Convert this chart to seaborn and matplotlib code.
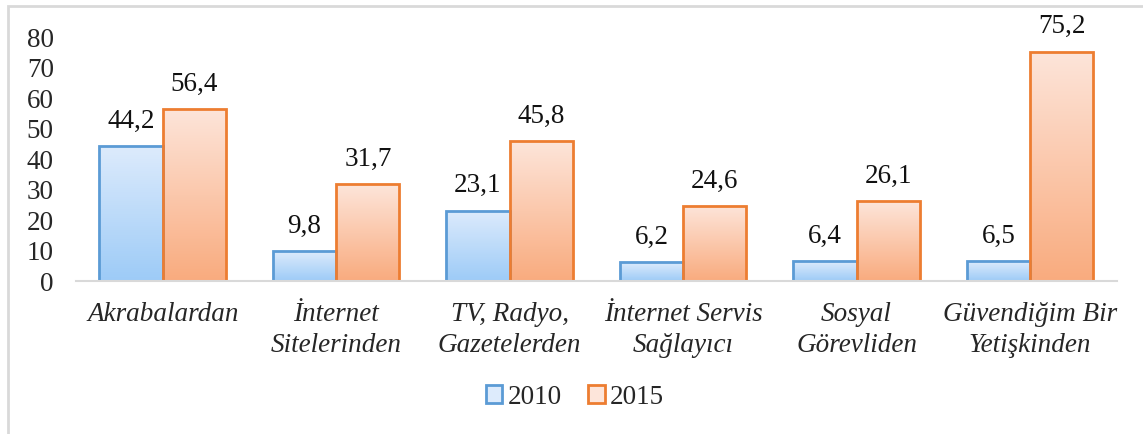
import numpy as np
import pandas as pd
import matplotlib
matplotlib.use("Agg")
import matplotlib.pyplot as plt
from matplotlib.patches import Patch, Rectangle
from matplotlib.colors import LinearSegmentedColormap
import seaborn as sns

# Data
categories = ["Akrabalardan", "İnternet\nSitelerinden", "TV, Radyo,\nGazetelerden",
              "İnternet Servis\nSağlayıcı", "Sosyal\nGörevliden", "Güvendiğim Bir\nYetişkinden"]
values_2010 = [44.2, 9.8, 23.1, 6.2, 6.4, 6.5]
values_2015 = [56.4, 31.7, 45.8, 24.6, 26.1, 75.2]
years = ["2010", "2015"]
y_ticks = [0, 10, 20, 30, 40, 50, 60, 70, 80]

df = pd.DataFrame({
    "category": categories * 2,
    "value": values_2010 + values_2015,
    "year": [years[0]] * len(categories) + [years[1]] * len(categories),
})

sns.set_style("white")
plt.rcParams["font.family"] = ["Liberation Serif", "DejaVu Serif"]

edge_colors = {"2010": "#5B9BD5", "2015": "#ED7D31"}
grad_colors = {"2010": ("#9DCBF7", "#DDEBFC"), "2015": ("#F9AB7E", "#FDE5DA")}
fs = 19.5

fig = plt.figure(figsize=(11.43, 4.34), dpi=100)
ax = fig.add_axes([0.0665, 0.3525, 0.9105, 0.5622])

sns.barplot(data=df, x="category", y="value", hue="year", order=categories,
            hue_order=years, width=0.73, gap=0, palette=edge_colors,
            legend=False, ax=ax)

ax.set_ylim(0, 80)
ax.set_xlim(-0.5, len(categories) - 0.5)

# gradient fill for each bar, clipped to the bar shape
for year, container in zip(years, ax.containers):
    cmap = LinearSegmentedColormap.from_list(year, grad_colors[year])
    grad = np.linspace(0, 1, 256).reshape(-1, 1)
    for bar in container:
        bar.set_facecolor("none")
        bar.set_edgecolor(edge_colors[year])
        bar.set_linewidth(2)
        x0, y0 = bar.get_x(), bar.get_y()
        w, h = bar.get_width(), bar.get_height()
        img = ax.imshow(grad, extent=[x0, x0 + w, y0, y0 + h], origin="lower",
                        aspect="auto", cmap=cmap, zorder=bar.get_zorder() - 0.1)
        img.set_clip_path(bar)
        bar.set_zorder(bar.get_zorder() + 0.1)
    labels = [f"{v:.1f}".replace(".", ",") for v in container.datavalues]
    ax.bar_label(container, labels=labels, padding=9, fontsize=fs, color="#111111")

ax.set_xlim(-0.5, len(categories) - 0.5)
ax.set_ylim(0, 80)
ax.set_yticks(y_ticks)
ax.set_yticklabels([str(t) for t in y_ticks], fontsize=fs)
ax.set_xticks(range(len(categories)))
ax.set_xticklabels(categories, fontsize=fs, style="italic", linespacing=1.3)
ax.tick_params(axis="x", length=0, pad=15)
ax.tick_params(axis="y", length=0, pad=16)
ax.set_xlabel("")
ax.set_ylabel("")
for side in ["top", "right", "left"]:
    ax.spines[side].set_visible(False)
ax.spines["bottom"].set_color("#D9D9D9")
ax.spines["bottom"].set_linewidth(1.5)

handles = [Patch(facecolor=grad_colors[y][1], edgecolor=edge_colors[y], linewidth=2, label=y)
           for y in years]
fig.legend(handles=handles, loc="center", bbox_to_anchor=(0.503, 0.085), ncol=2,
           frameon=False, fontsize=fs, handlelength=0.6, handleheight=0.6,
           handletextpad=0.2, columnspacing=1.0)

# light chart border
fig.patches.append(Rectangle((8 / 1143, -0.01), 1.2, 1 - 6 / 434 + 0.01, transform=fig.transFigure,
                             fill=False, edgecolor="#D9D9D9", linewidth=2))

fig.savefig("out.png", dpi=100)
